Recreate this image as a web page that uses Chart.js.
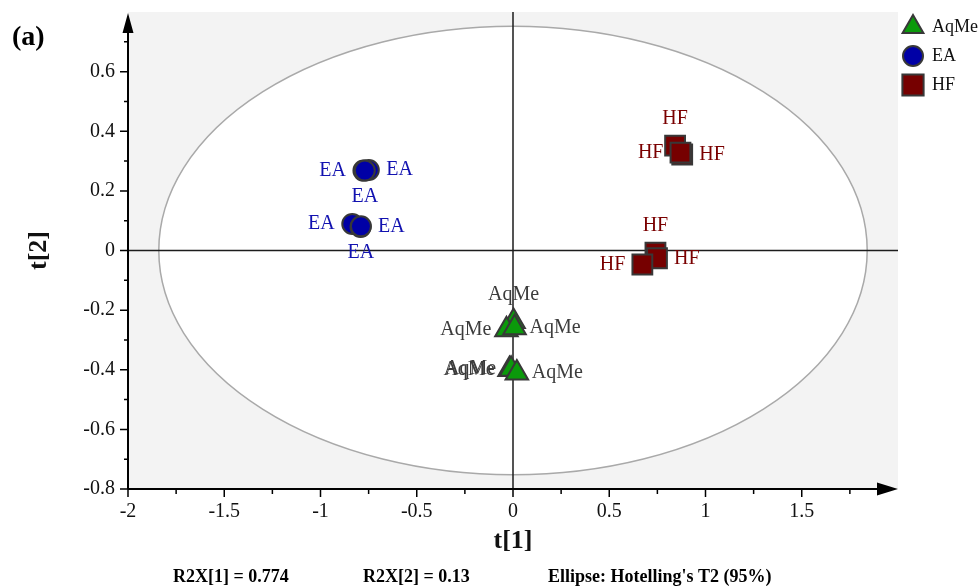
<!DOCTYPE html>
<html>
<head>
<meta charset="utf-8">
<title>PCA score plot (a)</title>
<script src="https://cdn.jsdelivr.net/npm/chart.js@4.4.0/dist/chart.umd.min.js"></script>
<style>
  body { margin: 0; background: #fff; }
  canvas { display: block; }
</style>
</head>
<body>
<canvas id="scorePlot" width="979" height="588"></canvas>
<script>
// Scores, t[1] and t[2] per sample
const aqmeX = [0.003, -0.034, 0.008, -0.018, -0.01, 0.02];
const aqmeY = [-0.238, -0.266, -0.259, -0.399, -0.398, -0.411];
const eaX = [-0.777, -0.749, -0.77, -0.835, -0.792, -0.79];
const eaY = [0.268, 0.27, 0.268, 0.089, 0.079, 0.081];
const hfX = [0.842, 0.879, 0.87, 0.74, 0.748, 0.672];
const hfY = [0.352, 0.322, 0.328, -0.007, -0.026, -0.047];

const groupNames = ['AqMe', 'EA', 'HF'];
const footNotes = ['R2X[1] = 0.774', 'R2X[2] = 0.13', "Ellipse: Hotelling's T2 (95%)"];

// Hotelling's T2 ellipse semi axes (t[1], t[2] units)
const ellipseT1 = 1.84;
const ellipseT2 = 0.752;

// where each point label sits relative to its marker
const aqmeLabelSide = ['above', 'left', 'right', 'left', 'left', 'right'];
const eaLabelSide = ['left', 'right', 'below', 'left', 'right', 'below'];
const hfLabelSide = ['above', 'right', 'left', 'above', 'right', 'left'];

const serif = '"Liberation Serif", "Times New Roman", serif';

function toPoints(xs, ys) {
    return xs.map((v, i) => ({ x: v, y: ys[i] }));
}

const plotDecor = {
    id: 'plotDecor',
    beforeDatasetsDraw(chart) {
        const { ctx, chartArea: a, scales: { x, y } } = chart;
        const cx = x.getPixelForValue(0);
        const cy = y.getPixelForValue(0);
        ctx.save();
        ctx.fillStyle = '#f3f3f3';
        ctx.fillRect(a.left, a.top, a.right - a.left, a.bottom - a.top);

        // confidence ellipse
        const rx = x.getPixelForValue(ellipseT1) - cx;
        const ry = cy - y.getPixelForValue(ellipseT2);
        ctx.beginPath();
        ctx.ellipse(cx, cy, rx, ry, 0, 0, Math.PI * 2);
        ctx.fillStyle = '#fff';
        ctx.fill();
        ctx.strokeStyle = '#a9a9a9';
        ctx.lineWidth = 1.5;
        ctx.stroke();

        // zero lines
        ctx.strokeStyle = '#1c1c1c';
        ctx.lineWidth = 1.5;
        ctx.beginPath();
        ctx.moveTo(cx, a.top);
        ctx.lineTo(cx, a.bottom);
        ctx.moveTo(a.left, cy);
        ctx.lineTo(a.right, cy);
        ctx.stroke();
        ctx.restore();
    },
    afterDatasetsDraw(chart) {
        const ctx = chart.ctx;
        ctx.save();
        ctx.font = '20px ' + serif;
        ctx.textBaseline = 'middle';
        chart.data.datasets.forEach((ds, i) => {
            const meta = chart.getDatasetMeta(i);
            ctx.fillStyle = ds.labelColor;
            meta.data.forEach((pt, j) => {
                const side = ds.labelSide[j];
                let lx = pt.x, ly = pt.y;
                if (side === 'left') {
                    ctx.textAlign = 'right';
                    lx -= ds.labelGap;
                } else if (side === 'right') {
                    ctx.textAlign = 'left';
                    lx += ds.labelGap;
                } else {
                    ctx.textAlign = 'center';
                    ly += side === 'above' ? -27 : 26;
                }
                ctx.fillText(ds.label, lx, ly);
            });
        });
        ctx.restore();
    },
    afterDraw(chart) {
        const { ctx, chartArea: a, scales: { x, y } } = chart;
        ctx.save();
        ctx.strokeStyle = '#000';
        ctx.fillStyle = '#000';

        // tick marks, long on labelled values
        ctx.lineWidth = 1.5;
        ctx.beginPath();
        y.ticks.forEach(t => {
            const k = Math.round(t.value * 10);
            if (k === 8) return;
            const py = y.getPixelForValue(t.value);
            ctx.moveTo(a.left, py);
            ctx.lineTo(a.left - (k % 2 === 0 ? 8 : 4), py);
        });
        x.ticks.forEach(t => {
            const k = Math.round(t.value * 4);
            if (k === 8) return;
            const px = x.getPixelForValue(t.value);
            ctx.moveTo(px, a.bottom);
            ctx.lineTo(px, a.bottom + (k % 2 === 0 ? 8 : 5));
        });
        ctx.stroke();

        // axis lines with arrow heads
        ctx.lineWidth = 2;
        ctx.beginPath();
        ctx.moveTo(a.left, a.bottom);
        ctx.lineTo(a.left, a.top + 10);
        ctx.moveTo(a.left, a.bottom);
        ctx.lineTo(a.right - 10, a.bottom);
        ctx.stroke();
        ctx.beginPath();
        ctx.moveTo(a.left, a.top + 1);
        ctx.lineTo(a.left - 5.5, a.top + 21);
        ctx.lineTo(a.left + 5.5, a.top + 21);
        ctx.closePath();
        ctx.moveTo(a.right, a.bottom);
        ctx.lineTo(a.right - 21, a.bottom - 6.5);
        ctx.lineTo(a.right - 21, a.bottom + 6.5);
        ctx.closePath();
        ctx.fill();

        // legend
        const legendY = [27, 56, 85];
        const legendR = [12, 10, 15];
        chart.data.datasets.forEach((ds, i) => {
            ctx.fillStyle = ds.backgroundColor;
            ctx.strokeStyle = ds.borderColor;
            ctx.lineWidth = 2;
            Chart.helpers.drawPoint(ctx, {
                pointStyle: ds.pointStyle,
                radius: legendR[i],
                rotation: 0,
                borderWidth: 2
            }, 913, legendY[i]);
            ctx.fillStyle = '#111';
            ctx.font = '18px ' + serif;
            ctx.textAlign = 'left';
            ctx.textBaseline = 'middle';
            ctx.fillText(groupNames[i], 932, legendY[i]);
        });

        // panel letter
        ctx.fillStyle = '#000';
        ctx.font = 'bold 28px ' + serif;
        ctx.textAlign = 'left';
        ctx.textBaseline = 'middle';
        ctx.fillText('(a)', 12, 38);

        // foot notes
        ctx.font = 'bold 18px ' + serif;
        const noteX = [173, 363, 548];
        footNotes.forEach((t, i) => ctx.fillText(t, noteX[i], 577));
        ctx.restore();
    }
};

const ctx = document.getElementById('scorePlot');
const scoreChart = new Chart(ctx.getContext('2d'), {
    type: 'scatter',
    data: {
        datasets: [{
            label: groupNames[0],
            data: toPoints(aqmeX, aqmeY),
            pointStyle: 'triangle',
            pointRadius: 13,
            backgroundColor: '#0b9a0b',
            borderColor: '#383838',
            borderWidth: 2,
            labelSide: aqmeLabelSide,
            labelColor: '#3c3c3c',
            labelGap: 15
        }, {
            label: groupNames[1],
            data: toPoints(eaX, eaY),
            pointStyle: 'circle',
            pointRadius: 10,
            backgroundColor: '#0000a6',
            borderColor: '#383838',
            borderWidth: 2,
            labelSide: eaLabelSide,
            labelColor: '#1212b0',
            labelGap: 17.5
        }, {
            label: groupNames[2],
            data: toPoints(hfX, hfY),
            pointStyle: 'rect',
            pointRadius: 14,
            backgroundColor: '#760000',
            borderColor: '#383838',
            borderWidth: 2,
            labelSide: hfLabelSide,
            labelColor: '#7a0000',
            labelGap: 17
        }]
    },
    options: {
        responsive: false,
        animation: false,
        layout: {
            autoPadding: false,
            padding: { top: 12, right: 81, bottom: 0, left: 0 }
        },
        plugins: {
            legend: { display: false },
            tooltip: { enabled: false }
        },
        scales: {
            x: {
                type: 'linear',
                min: -2,
                max: 2,
                afterFit(s) {
                    s.height = 99;
                    s.paddingLeft = 0;
                    s.paddingRight = 0;
                },
                grid: { display: false, drawTicks: true, tickLength: 8 },
                border: { display: false },
                ticks: {
                    stepSize: 0.25,
                    autoSkip: false,
                    maxRotation: 0,
                    padding: 3,
                    color: '#111',
                    font: { family: serif, size: 20 },
                    callback(v) {
                        const k = Math.round(v * 4);
                        if (k % 2 !== 0 || k === 8) return '';
                        return String(+v.toFixed(1));
                    }
                },
                title: {
                    display: true,
                    text: 't[1]',
                    color: '#111',
                    font: { family: serif, size: 26, weight: 'bold' },
                    padding: { top: 0, bottom: 31 }
                }
            },
            y: {
                type: 'linear',
                min: -0.8,
                max: 0.8,
                afterFit(s) {
                    s.width = 128;
                    s.paddingTop = 0;
                    s.paddingBottom = 0;
                },
                grid: { display: false, drawTicks: true, tickLength: 8 },
                border: { display: false },
                ticks: {
                    stepSize: 0.1,
                    autoSkip: false,
                    padding: 5,
                    color: '#111',
                    font: { family: serif, size: 20 },
                    callback(v) {
                        const k = Math.round(v * 10);
                        if (k % 2 !== 0 || k === 8) return '';
                        return String(+v.toFixed(1));
                    }
                },
                title: {
                    display: true,
                    text: 't[2]',
                    color: '#111',
                    font: { family: serif, size: 26, weight: 'bold' },
                    padding: { top: 24, bottom: 0 }
                }
            }
        }
    },
    plugins: [plotDecor]
});
</script>
</body>
</html>
